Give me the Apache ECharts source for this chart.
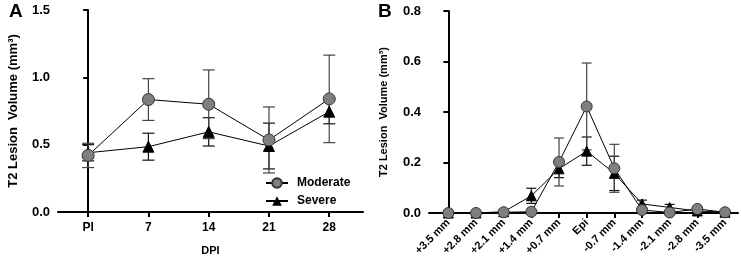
<!DOCTYPE html>
<html><head><meta charset="utf-8">
<script src="https://cdn.jsdelivr.net/npm/echarts@6/dist/echarts.min.js"></script>
<style>html,body{margin:0;padding:0;background:#fff}#c{width:741px;height:262px}</style>
</head><body><div id="c"></div>
<script>
// Panel A
const catsA = ['PI', '7', '14', '21', '28'];
const modA = [0.42, 0.835, 0.80, 0.535, 0.84];
const modAerr = [0.09, 0.155, 0.255, 0.245, 0.325];
const sevA = [0.44, 0.485, 0.595, 0.49, 0.745];
const sevAerr = [0.06, 0.10, 0.105, 0.17, 0.09];
const ticksA = [0, 0.5, 1.0, 1.5];
// Panel B
const catsB = ['+3.5 mm', '+2.8 mm', '+2.1 mm', '+1.4 mm', '+0.7 mm', 'Epi', '-0.7 mm', '-1.4 mm', '-2.1 mm', '-2.8 mm', '-3.5 mm'];
const modB = [0.0, 0.0, 0.003, 0.005, 0.202, 0.422, 0.177, 0.012, 0.002, 0.016, 0.003];
const modBerr = [0.0, 0.0, 0.003, 0.003, 0.095, 0.172, 0.095, 0.008, 0.002, 0.006, 0.002];
const sevB = [0.0, 0.0, 0.005, 0.068, 0.175, 0.245, 0.157, 0.036, 0.022, 0.008, 0.003];
const sevBerr = [0.0, 0.0, 0.008, 0.03, 0.035, 0.056, 0.068, 0.015, 0.012, 0.008, 0.003];
const ticksB = [0, 0.2, 0.4, 0.6, 0.8];

const chart = echarts.init(document.getElementById('c'));
const idxA = catsA.map((_, i) => i);
const idxB = catsB.map((_, i) => i);

function errSeries(name, xi, yi, vals, errs, color, capHalf, z) {
  return {
    type: 'custom', name: name, xAxisIndex: xi, yAxisIndex: yi, z: z, silent: true,
    data: vals.map((v, i) => [i, v, errs[i]]),
    renderItem: function (params, api) {
      const x = api.value(0), y = api.value(1), e = api.value(2);
      if (!e) return null;
      const top = api.coord([x, y + e]);
      const bot = api.coord([x, y - e]);
      const st = { stroke: color, lineWidth: 1.2 };
      return { type: 'group', children: [
        { type: 'line', shape: { x1: top[0], y1: top[1], x2: bot[0], y2: bot[1] }, style: st },
        { type: 'line', shape: { x1: top[0] - capHalf, y1: top[1], x2: top[0] + capHalf, y2: top[1] }, style: st },
        { type: 'line', shape: { x1: bot[0] - capHalf, y1: bot[1], x2: bot[0] + capHalf, y2: bot[1] }, style: st }
      ]};
    }
  };
}

const axisLine = { show: true, lineStyle: { color: '#000', width: 2 } };
const axisTick = { show: true, length: 5, lineStyle: { color: '#000', width: 2 } };
const boldLbl = { color: '#000', fontWeight: 'bold', fontFamily: 'Liberation Sans, Arial, sans-serif' };

chart.setOption({
  animation: false,
  title: [
    { text: 'A', left: 4, top: -3, textStyle: { fontSize: 19, fontWeight: 'bold', color: '#000', fontFamily: 'Liberation Sans, Arial' } },
    { text: 'B', left: 373, top: -3, textStyle: { fontSize: 19, fontWeight: 'bold', color: '#000', fontFamily: 'Liberation Sans, Arial' } }
  ],
  legend: {
    orient: 'vertical', left: 260, top: 172, itemGap: 6, itemWidth: 22, itemHeight: 12,
    data: ['Moderate', 'Severe'],
    textStyle: Object.assign({ fontSize: 12, letterSpacing: 1.2, padding: [0, 0, 0, 4] }, boldLbl)
  },
  grid: [
    { left: 58, top: 10, width: 305, height: 202 },
    { left: 429, top: 11, width: 309, height: 202 }
  ],
  xAxis: [
    { type: 'value', gridIndex: 0, min: -0.5, max: 4.56, splitLine: { show: false },
      axisLine: axisLine, axisTick: Object.assign({ customValues: idxA }, axisTick),
      axisLabel: Object.assign({ customValues: idxA, formatter: v => catsA[Math.round(v)], fontSize: 12, margin: 10 }, boldLbl),
      name: 'DPI', nameLocation: 'middle', nameGap: 33,
      nameTextStyle: Object.assign({ fontSize: 11 }, boldLbl) },
    { type: 'value', gridIndex: 1, min: -0.7, max: 10.47, splitLine: { show: false },
      axisLine: axisLine, axisTick: Object.assign({ customValues: idxB }, axisTick),
      axisLabel: Object.assign({ customValues: idxB, formatter: v => catsB[Math.round(v)], fontSize: 11, rotate: 45, margin: 8 }, boldLbl) }
  ],
  yAxis: [
    { type: 'value', gridIndex: 0, min: 0, max: 1.5, interval: 0.5, splitLine: { show: false },
      axisLine: axisLine, axisTick: axisTick,
      axisLabel: Object.assign({ fontSize: 13, formatter: v => v.toFixed(1), margin: 8 }, boldLbl),
      name: 'T2 Lesion  Volume (mm³)', nameLocation: 'middle', nameGap: 38,
      nameTextStyle: Object.assign({ fontSize: 13 }, boldLbl) },
    { type: 'value', gridIndex: 1, min: 0, max: 0.8, interval: 0.2, splitLine: { show: false },
      axisLine: axisLine, axisTick: axisTick,
      axisLabel: Object.assign({ fontSize: 13, formatter: v => v.toFixed(1), margin: 8 }, boldLbl),
      name: 'T2 Lesion  Volume (mm³)', nameLocation: 'middle', nameGap: 40,
      nameTextStyle: Object.assign({ fontSize: 11 }, boldLbl) }
  ],
  series: [
    errSeries('errSevA', 0, 0, sevA, sevAerr, '#111', 6, 1),
    errSeries('errModA', 0, 0, modA, modAerr, '#444', 6, 1),
    { name: 'Severe', type: 'line', xAxisIndex: 0, yAxisIndex: 0, z: 3,
      data: sevA.map((v, i) => [i, v]), symbol: 'triangle', symbolSize: 11,
      lineStyle: { color: '#000', width: 1 }, itemStyle: { color: '#000', borderColor: '#000' } },
    { name: 'Moderate', type: 'line', xAxisIndex: 0, yAxisIndex: 0, z: 4,
      data: modA.map((v, i) => [i, v]), symbol: 'circle', symbolSize: 12,
      lineStyle: { color: '#000', width: 1 }, itemStyle: { color: '#7f7f7f', borderColor: '#333', borderWidth: 1 } },
    errSeries('errSevB', 1, 1, sevB, sevBerr, '#111', 5, 1),
    errSeries('errModB', 1, 1, modB, modBerr, '#444', 5, 1),
    { name: 'Severe', type: 'line', xAxisIndex: 1, yAxisIndex: 1, z: 3,
      data: sevB.map((v, i) => [i, v]), symbol: 'triangle', symbolSize: 10,
      lineStyle: { color: '#000', width: 1 }, itemStyle: { color: '#000', borderColor: '#000' } },
    { name: 'Moderate', type: 'line', xAxisIndex: 1, yAxisIndex: 1, z: 4,
      data: modB.map((v, i) => [i, v]), symbol: 'circle', symbolSize: 11,
      lineStyle: { color: '#000', width: 1 }, itemStyle: { color: '#7f7f7f', borderColor: '#333', borderWidth: 1 } }
  ]
});
</script>
</body></html>
